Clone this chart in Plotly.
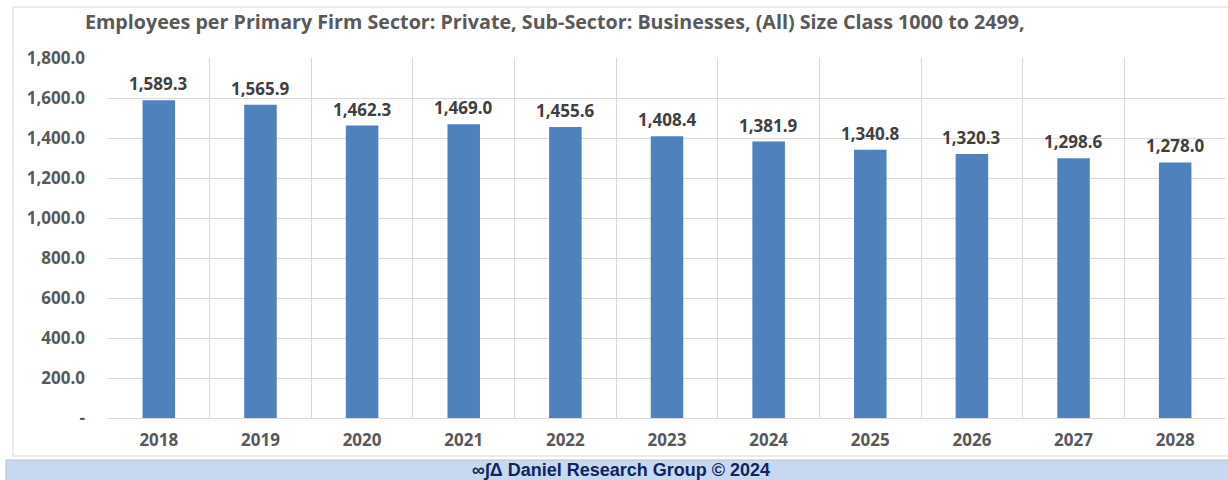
import plotly.graph_objects as go

years = ["2018", "2019", "2020", "2021", "2022", "2023", "2024", "2025", "2026", "2027", "2028"]
employees = [1589.3, 1565.9, 1462.3, 1469.0, 1455.6, 1408.4, 1381.9, 1340.8, 1320.3, 1298.6, 1278.0]
y_ticks = [0, 200, 400, 600, 800, 1000, 1200, 1400, 1600, 1800]
y_tick_text = ["-"] + [f"{v:,.1f}" for v in y_ticks[1:]]

title_text = "Employees per Primary Firm Sector: Private, Sub-Sector: Businesses, (All) Size Class 1000 to 2499,"
footer_text = "∞∫Δ Daniel Research Group © 2024"

FONT = "Open Sans"
W, H = 1228, 480
L, R, T, B = 108, 2, 58, 62
pw = W - L - R
ph = H - T - B

def px_x(x):
    return (x - L) / pw

def px_y(y):
    return (H - B - y) / ph

fig = go.Figure()
fig.add_trace(go.Bar(
    x=years, y=employees,
    marker=dict(color="#4f81bd", line=dict(width=0)),
    width=0.32,
    hoverinfo="x+y",
))

# category axis: annotation x positions are category indices
label_annotations = [
    dict(x=i, y=v, xref="x", yref="y", text=f"{v:,.1f}", showarrow=False,
         xanchor="center", yanchor="bottom", yshift=3,
         font=dict(family=FONT, size=17, color="#404040", weight="bold"))
    for i, v in enumerate(employees)
]

fig.update_layout(
    width=W, height=H,
    margin=dict(l=L, r=R, t=T, b=B),
    paper_bgcolor="white", plot_bgcolor="white",
    showlegend=False,
    font=dict(family=FONT),
    xaxis=dict(
        type="category", tickson="boundaries", showgrid=True, gridcolor="#d9d9d9", gridwidth=1,
        ticks="", showline=True, linecolor="#d9d9d9", linewidth=1,
        tickfont=dict(family=FONT, size=17, color="#595959", weight="bold"),
        ticklabelstandoff=7,
    ),
    yaxis=dict(
        range=[0, 1800], tickvals=y_ticks, ticktext=y_tick_text,
        showgrid=True, gridcolor="#d9d9d9", gridwidth=1, zeroline=False,
        showline=False, ticks="",
        tickfont=dict(family=FONT, size=17, color="#595959", weight="bold"),
        ticklabelstandoff=22,
    ),
    shapes=[
        dict(type="rect", xref="paper", yref="paper",
             x0=px_x(13), x1=px_x(1240), y0=px_y(456), y1=px_y(7),
             line=dict(color="#d9d9d9", width=1), fillcolor="rgba(0,0,0,0)", layer="below"),
        dict(type="rect", xref="paper", yref="paper",
             x0=px_x(6), x1=px_x(1240), y0=px_y(482), y1=px_y(460),
             line=dict(color="#bfbfbf", width=1), fillcolor="#c6d9f0", layer="above"),
    ],
    annotations=label_annotations + [
        dict(text=title_text, xref="paper", yref="paper", x=px_x(83), y=px_y(22),
             xanchor="left", yanchor="middle", showarrow=False,
             font=dict(family=FONT, size=19.7, color="#595959", weight="bold")),
        dict(text=footer_text, xref="paper", yref="paper", x=px_x(621), y=px_y(470),
             xanchor="center", yanchor="middle", showarrow=False,
             font=dict(family="Liberation Sans", size=18, color="#10245e", weight="bold")),
    ],
)

fig.write_html(
    "out.html",
    config={"displayModeBar": False},
    post_script="document.body.style.margin='0';document.body.style.overflow='hidden';",
)
